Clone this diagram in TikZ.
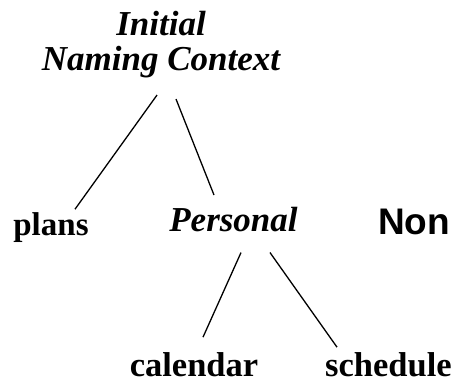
\documentclass[tikz,border=0pt]{standalone}
\usepackage{fontspec}
\setmainfont{Liberation Serif}
\newfontfamily\nonfont{Liberation Sans}
\usetikzlibrary{calc}
\begin{document}
\begin{tikzpicture}[x=1pt,y=-1pt,
  lbl/.style={inner sep=0pt,anchor=base,font=\fontsize{34.5}{35}\selectfont\bfseries},
  ital/.style={inner sep=0pt,font=\fontsize{35}{35}\selectfont\bfseries\itshape},
  edge/.style={line width=1.3pt}]
\useasboundingbox (0,0) rectangle (455,384);
\clip (0,0) rectangle (455,384);
\node[ital,align=center,anchor=base] (root) at (161,70) {Initial\\Naming Context};
\node[lbl,font=\fontsize{33}{35}\selectfont\bfseries] (plans) at (51,235) {plans};
\node[ital,anchor=base] (personal) at (233.5,231) {Personal};
\node[inner sep=0pt,anchor=base west,font=\nonfont\fontsize{37}{39}\selectfont\bfseries] (non) at (378,234) {Non};
\node[lbl] (calendar) at (194,376) {calendar};
\node[lbl] (schedule) at (388.5,376) {schedule};
\draw[edge] ($(root.south)+(-4,17.4)$) -- ($(plans.north)+(24,-2.7)$);
\draw[edge] ($(root.south)+(15,21.4)$) -- ($(personal.north)+(-19.5,-11.5)$);
\draw[edge] ($(personal.south)+(7.5,21)$) -- ($(calendar.north)+(9,-14.7)$);
\draw[edge] ($(personal.south)+(36.5,21)$) -- ($(schedule.north)+(-51.5,-4.7)$);
\end{tikzpicture}
\end{document}
